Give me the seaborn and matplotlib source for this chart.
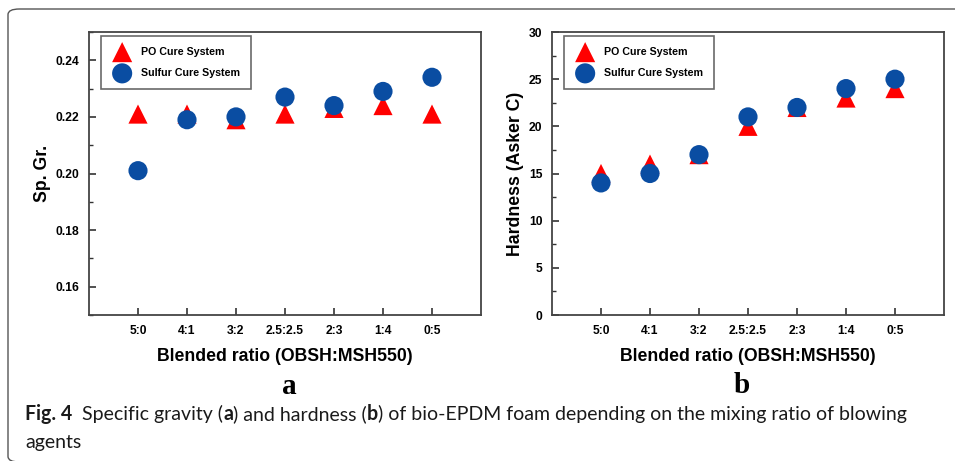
import matplotlib
matplotlib.use("Agg")
import matplotlib.pyplot as plt
from matplotlib.patches import FancyBboxPatch
from matplotlib.ticker import MultipleLocator, FormatStrFormatter
import pandas as pd
import seaborn as sns

# data
ratios = ["5:0", "4:1", "3:2", "2.5:2.5", "2:3", "1:4", "0:5"]
sg_po = [0.221, 0.221, 0.219, 0.221, 0.223, 0.224, 0.221]
sg_sulfur = [0.201, 0.219, 0.220, 0.227, 0.224, 0.229, 0.234]
hard_po = [15, 16, 17, 20, 22, 23, 24]
hard_sulfur = [14, 15, 17, 21, 22, 24, 25]

RED = "#ff0000"
BLUE = "#0a4da2"

sns.set_theme(style="white")
plt.rcParams["font.family"] = ["Liberation Sans", "DejaVu Sans"]
plt.rcParams["text.color"] = "black"
plt.rcParams["axes.labelcolor"] = "black"
plt.rcParams["xtick.color"] = "black"
plt.rcParams["ytick.color"] = "black"

W, H = 955, 461
fig = plt.figure(figsize=(W / 100, H / 100), dpi=100)


def make_panel(rect, po, sulfur, ylim, major, minor, fmt, ylabel):
    ax = fig.add_axes(rect)
    x = list(range(len(ratios)))
    df_po = pd.DataFrame({"x": x, "y": po})
    df_s = pd.DataFrame({"x": x, "y": sulfur})
    sns.scatterplot(data=df_po, x="x", y="y", marker="^", s=190, color=RED,
                    edgecolor="none", label="PO Cure System", ax=ax, zorder=3)
    sns.scatterplot(data=df_s, x="x", y="y", marker="o", s=190, color=BLUE,
                    edgecolor="none", label="Sulfur Cure System", ax=ax, zorder=4)
    ax.set_xlim(-1, 7)
    ax.set_ylim(*ylim)
    ax.set_xticks(x)
    ax.set_xticklabels(ratios)
    ax.yaxis.set_major_locator(MultipleLocator(major))
    ax.yaxis.set_minor_locator(MultipleLocator(minor))
    if fmt:
        ax.yaxis.set_major_formatter(FormatStrFormatter(fmt))
    ax.tick_params(axis="both", which="both", direction="in", color="#333333",
                   bottom=True, left=True, top=False, right=False)
    ax.tick_params(which="major", length=5, width=1.2, labelsize=8.7, pad=7)
    ax.tick_params(which="minor", length=3, width=1.0)
    for lab in ax.get_xticklabels() + ax.get_yticklabels():
        lab.set_fontweight("bold")
    for sp in ax.spines.values():
        sp.set_color("#444444")
        sp.set_linewidth(1.3)
    ax.set_xlabel("Blended ratio (OBSH:MSH550)", fontsize=12.7, fontweight="bold", labelpad=8)
    ax.set_ylabel(ylabel, fontsize=12.7, fontweight="bold", labelpad=3.5)
    leg = ax.legend(loc="upper left", bbox_to_anchor=(0.03, 0.985), frameon=True,
                    fancybox=False, prop={"weight": "bold", "size": 7.7},
                    borderpad=1.0, labelspacing=1.05, handletextpad=0.8,
                    borderaxespad=0.0, markerscale=1.05)
    leg.get_frame().set_edgecolor("#444444")
    leg.get_frame().set_linewidth(1.2)
    return ax


ax_a = make_panel([89 / W, 1 - 315 / H, 392 / W, 283 / H], sg_po, sg_sulfur,
                  (0.15, 0.25), 0.02, 0.01, "%.2f", "Sp. Gr.")
ax_b = make_panel([552 / W, 1 - 315 / H, 392 / W, 283 / H], hard_po, hard_sulfur,
                  (0, 30), 5, 2.5, None, "Hardness (Asker C)")

# panel letters
fig.text(289 / W, 1 - 387 / H, "a", family="Liberation Serif", fontweight="bold",
         fontsize=21, ha="center", va="center")
fig.text(742 / W, 1 - 385 / H, "b", family="Liberation Serif", fontweight="bold",
         fontsize=21, ha="center", va="center")

# rounded frame around the figure
frame = FancyBboxPatch((8 / W, 1 - 462 / H), 960 / W, 453 / H,
                       boxstyle="round,pad=0,rounding_size=0.012",
                       transform=fig.transFigure, fill=False,
                       edgecolor="#555555", linewidth=1.0, clip_on=False)
fig.patches.append(frame)

# caption with mixed bold / regular runs
cap_font = ["Lato", "DejaVu Sans"]
renderer = fig.canvas.get_renderer()
line1 = [("Fig. 4", "bold"), ("  Specific gravity (", "normal"),
         ("a", "bold"), (") and hardness (", "normal"), ("b", "bold"),
         (") of bio-EPDM foam depending on the mixing ratio of blowing", "normal")]


def write_runs(x_px, y_px, runs, size):
    x = x_px
    for s, w in runs:
        t = fig.text(x / W, 1 - y_px / H, s, fontsize=size, fontweight=w,
                     family=cap_font, ha="left", va="baseline", color="#1a1a1a")
        x += t.get_window_extent(renderer=renderer).width
    return x - x_px


# size the caption so the first line spans the same width as in the reference
probe = fig.text(0, 0, "".join(s for s, _ in line1), fontsize=14, family=cap_font)
cap_size = 14 * 885 / probe.get_window_extent(renderer=renderer).width
probe.remove()

write_runs(25, 420, line1, cap_size)
write_runs(25, 448, [("agents", "normal")], cap_size)

fig.savefig("out.png", dpi=100, facecolor="white")
